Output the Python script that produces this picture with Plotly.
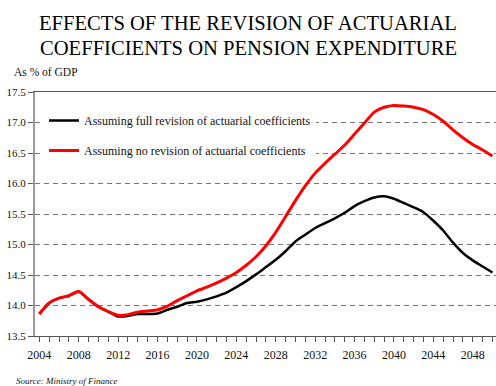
import plotly.graph_objects as go

years = list(range(2004, 2051))

full_revision = [
    13.86, 14.04, 14.12, 14.16, 14.23, 14.10, 13.98, 13.90,  # 2004-2011
    13.82, 13.83, 13.86, 13.86, 13.87, 13.93, 13.98, 14.04,  # 2012-2019
    14.06, 14.10, 14.15, 14.21, 14.30, 14.40, 14.51, 14.63,  # 2020-2027
    14.75, 14.89, 15.05, 15.16, 15.27, 15.35, 15.43, 15.52,  # 2028-2035
    15.63, 15.71, 15.77, 15.79, 15.75, 15.68, 15.61, 15.53,  # 2036-2043
    15.39, 15.23, 15.03, 14.86, 14.74, 14.64, 14.54,         # 2044-2050
]

no_revision = [
    13.86, 14.04, 14.12, 14.16, 14.23, 14.10, 13.98, 13.90,  # 2004-2011
    13.84, 13.85, 13.89, 13.91, 13.93, 13.99, 14.08, 14.16,  # 2012-2019
    14.24, 14.30, 14.37, 14.45, 14.54, 14.66, 14.80, 14.98,  # 2020-2027
    15.20, 15.46, 15.72, 15.96, 16.17, 16.33, 16.48, 16.63,  # 2028-2035
    16.81, 16.99, 17.17, 17.25, 17.28, 17.27, 17.25, 17.21,  # 2036-2043
    17.13, 17.02, 16.88, 16.75, 16.64, 16.55, 16.45,         # 2044-2050
]

series_names = [
    "Assuming full revision of actuarial coefficients",
    "Assuming no revision of actuarial coefficients",
]
x_tick_labels = [str(y) for y in range(2004, 2049, 4)]
y_tick_values = [13.5, 14.0, 14.5, 15.0, 15.5, 16.0, 16.5, 17.0, 17.5]

title_lines = [
    "EFFECTS OF THE REVISION OF ACTUARIAL",
    "COEFFICIENTS ON PENSION EXPENDITURE",
]

SERIF = "Liberation Serif"

fig = go.Figure()
fig.add_trace(go.Scatter(
    x=years, y=full_revision, name=series_names[0], mode="lines",
    line=dict(color="#000000", width=2.5, shape="spline", smoothing=0.6),
    legendgroup="a",
))
fig.add_trace(go.Scatter(
    x=years, y=no_revision, name=series_names[1], mode="lines",
    line=dict(color="#ff0000", width=3, shape="spline", smoothing=0.6),
    legendgroup="b",
))

plot_h = 386 - 92 - 50
plot_w = 496 - 35
def px_to_paper(px, py):
    return (px - 35) / plot_w, (386 - 50 - py) / plot_h

lx, ly = px_to_paper(44, 106)

fig.update_layout(
    width=496, height=386,
    margin=dict(l=35, r=0, t=92, b=50),
    paper_bgcolor="white", plot_bgcolor="white",
    font=dict(family=SERIF, size=12, color="#111"),
    showlegend=True,
    legend=dict(
        x=lx, y=ly, xanchor="left", yanchor="top",
        bgcolor="white", borderwidth=0,
        font=dict(family=SERIF, size=12, color="#111"),
        traceorder="grouped", tracegroupgap=11,
        itemwidth=30,
    ),
)

texts = [
    (title_lines[0], 248, 23, "center", 20.6, False),
    (title_lines[1], 248, 47.5, "center", 20.6, False),
    ("As % of GDP", 12, 72, "left", 11.5, False),
    ("Source: Ministry of Finance", 14, 381, "left", 9, True),
]
for txt, px, py, xa, fs, ital in texts:
    xp, yp = px_to_paper(px, py)
    fig.add_annotation(
        text=f"<i>{txt}</i>" if ital else txt,
        x=xp, y=yp, xref="paper", yref="paper", xanchor=xa, yanchor="middle",
        showarrow=False, font=dict(family=SERIF, size=fs, color="#000" if fs > 15 else "#111"),
    )

fig.update_xaxes(
    range=[2003.56, 2050.36],
    tickmode="array", tickvals=[int(t) for t in x_tick_labels], ticktext=x_tick_labels,
    ticks="outside", ticklen=5, tickcolor="#555", tickwidth=1,
    minor=dict(dtick=1, tick0=2004, ticks="outside", ticklen=5, tickcolor="#555", tickwidth=1, showgrid=False),
    showline=True, linecolor="#555", linewidth=1, mirror=True,
    showgrid=False, zeroline=False,
    tickfont=dict(family=SERIF, size=12, color="#111"),
    ticklabelstandoff=3,
)
fig.update_yaxes(
    range=[13.5, 17.5],
    tickmode="array", tickvals=y_tick_values, ticktext=[f"{v:.1f}" for v in y_tick_values],
    ticks="outside", ticklen=5, tickcolor="#555", tickwidth=1,
    showline=True, linecolor="#999", linewidth=2,
    showgrid=True, gridcolor="#777", gridwidth=1, griddash="5px,4px",
    zeroline=False,
    tickfont=dict(family=SERIF, size=11, color="#111"),
)

fig.write_html("out.html")
